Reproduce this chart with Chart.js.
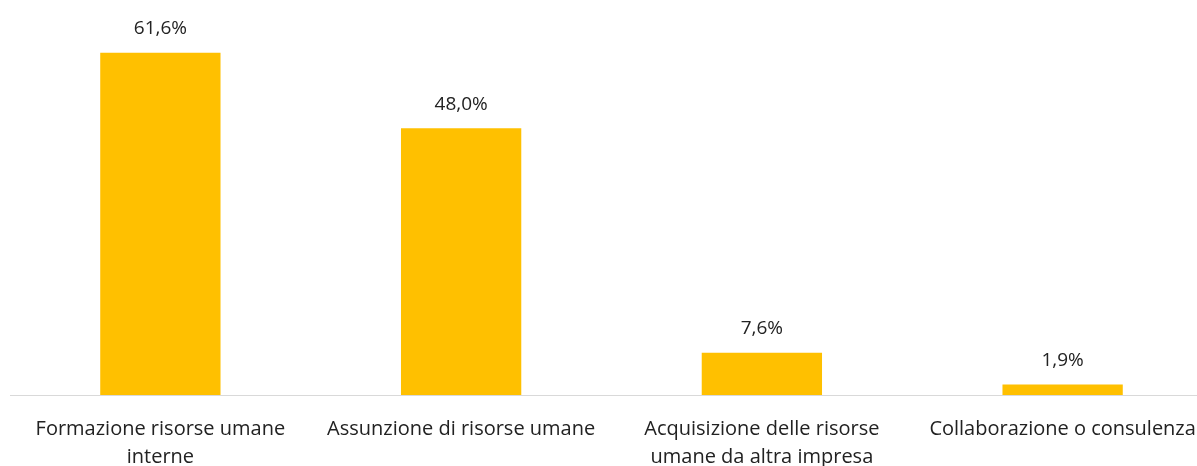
<!DOCTYPE html>
<html>
<head>
<meta charset="utf-8">
<script src="https://cdn.jsdelivr.net/npm/chart.js@4"></script>
<style>
  html, body { margin: 0; padding: 0; background: #fff; overflow: hidden; }
  #wrap { width: 1215px; height: 466px; }
</style>
</head>
<body>
<div id="wrap"><canvas id="chart" width="1215" height="466"></canvas></div>
<script>
  // dati
  const categorie = [
    ['Formazione risorse umane', 'interne'],
    'Assunzione di risorse umane',
    ['Acquisizione delle risorse', 'umane da altra impresa'],
    'Collaborazione o consulenza'
  ];
  const valori = [61.6, 48.0, 7.6, 1.9];
  const etichette = ['61,6%', '48,0%', '7,6%', '1,9%'];

  const FONT = '"Open Sans", sans-serif';

  // etichette sopra le barre (niente plugin esterni)
  const etichetteBarre = {
    id: 'etichetteBarre',
    afterDatasetsDraw(chart) {
      const ctx = chart.ctx;
      const meta = chart.getDatasetMeta(0);
      ctx.save();
      ctx.font = '19px ' + FONT;
      ctx.fillStyle = '#222';
      ctx.textAlign = 'center';
      ctx.textBaseline = 'middle';
      meta.data.forEach((bar, i) => {
        ctx.fillText(etichette[i], bar.x, bar.y - 24);
      });
      ctx.restore();
    }
  };

  new Chart(document.getElementById('chart'), {
    type: 'bar',
    data: {
      labels: categorie,
      datasets: [{
        data: valori,
        backgroundColor: '#FFC000',
        categoryPercentage: 1,
        barPercentage: 0.4
      }]
    },
    options: {
      responsive: false,
      animation: false,
      layout: { padding: { left: 10, right: 2, top: 6, bottom: 0 } },
      plugins: { legend: { display: false }, tooltip: { enabled: false } },
      scales: {
        x: {
          grid: { display: false },
          border: { display: true, color: '#d9d9d9', width: 1 },
          ticks: {
            color: '#222',
            font: { family: FONT, size: 20, lineHeight: 1.4 },
            padding: 12,
            maxRotation: 0,
            autoSkip: false
          },
          afterFit(scale) { scale.height = 71; }
        },
        y: {
          display: false,
          min: 0,
          max: 70
        }
      }
    },
    plugins: [etichetteBarre]
  });
</script>
</body>
</html>
